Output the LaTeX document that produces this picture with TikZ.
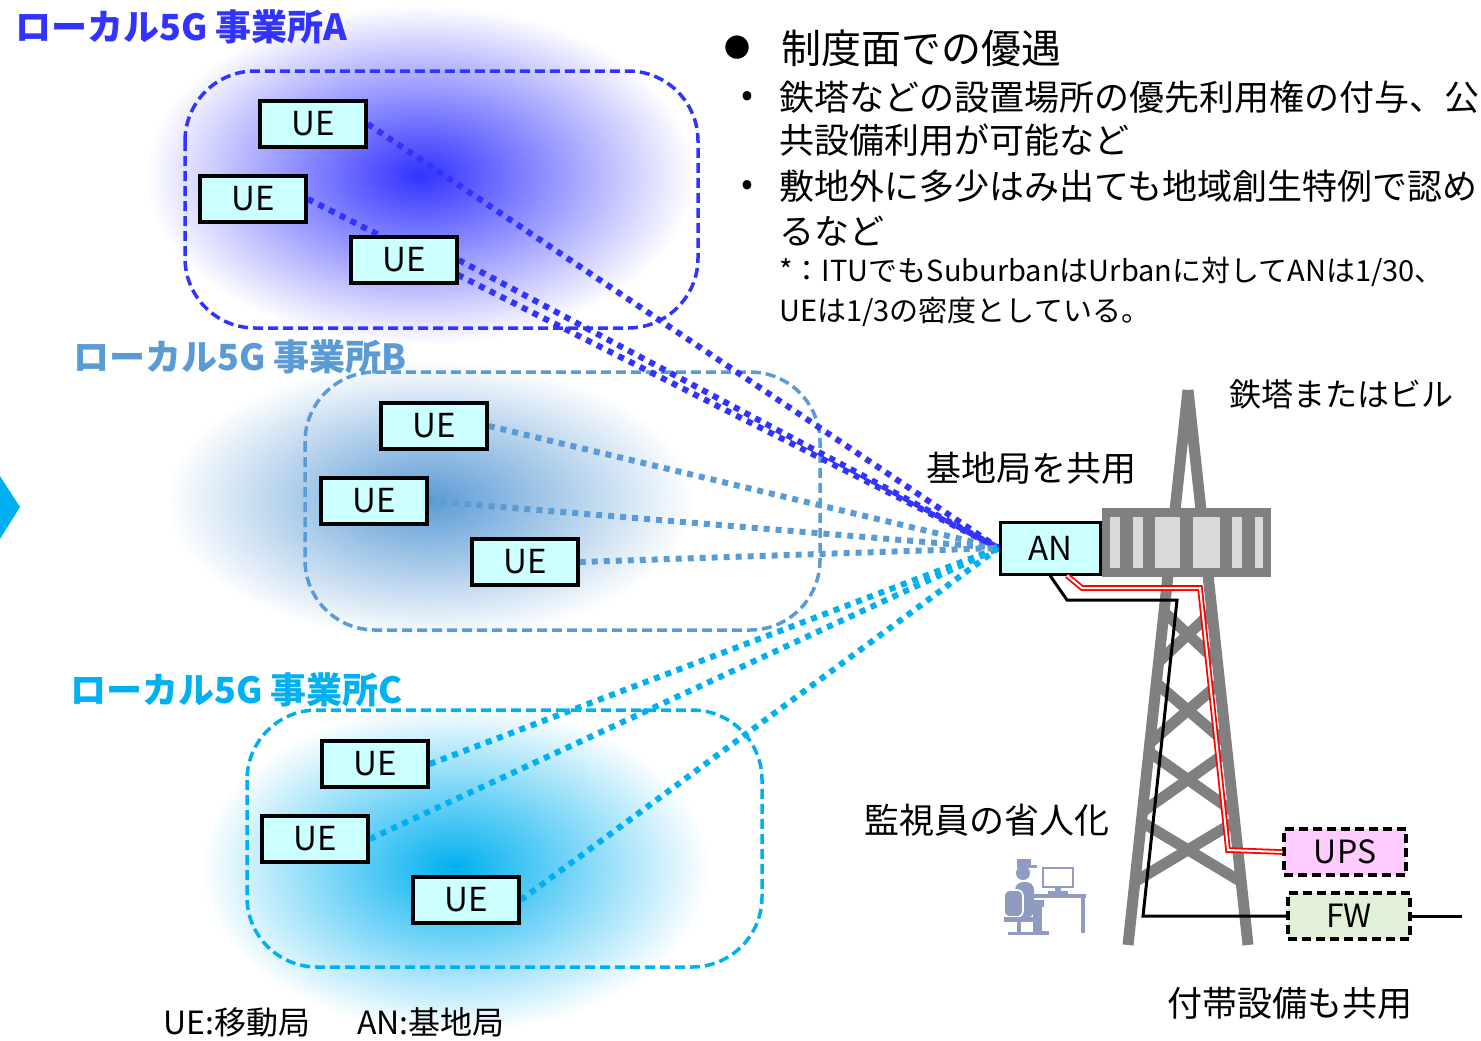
\documentclass[tikz,border=0pt]{standalone}
\usepackage{fontspec}
\setmainfont{Noto Sans CJK JP}
\usetikzlibrary{backgrounds,calc}

% colours
\definecolor{siteA}{RGB}{51,51,255}
\definecolor{siteB}{RGB}{91,155,213}
\definecolor{siteC}{RGB}{0,176,240}
\definecolor{uecyan}{RGB}{204,255,255}
\definecolor{towergray}{RGB}{128,128,128}
\definecolor{slotgray}{RGB}{217,217,217}
\definecolor{upspink}{RGB}{255,204,255}
\definecolor{fwgreen}{RGB}{226,240,217}
\definecolor{staffblue}{RGB}{143,155,192}

\tikzset{
  term/.style={draw=black, line width=1.75pt, fill=uecyan, minimum width=53pt,
    minimum height=23pt, inner sep=0pt, font=\fontsize{16.5}{16.5}\selectfont},
  facility/.style={draw=black, line width=1.6pt, dash pattern=on 4.5pt off 2.5pt,
    minimum width=61pt, minimum height=23pt, inner sep=0pt,
    font=\fontsize{16}{16}\selectfont},
  site/.style={line width=1.75pt, dash pattern=on 5pt off 2.5pt, rounded corners=35pt},
  radio/.style={line width=3pt, dash pattern=on 3pt off 3pt},
  sitelabel/.style={anchor=west, inner sep=0pt, font=\bfseries\fontsize{18}{18}\selectfont},
  caption/.style={inner sep=0pt, font=\fontsize{17.5}{17.5}\selectfont},
  brace/.style={towergray, line width=5.5pt},
}

\begin{document}
\begin{tikzpicture}[x=0.5pt, y=-0.5pt]
\useasboundingbox (0,0) rectangle (1481,1040);

% terminals, site A
\node[term] (ue_a1) at (313,124) {UE};
\node[term] (ue_a2) at (253,199) {UE};
\node[term] (ue_a3) at (404,260) {UE};
% terminals, site B
\node[term] (ue_b1) at (434,426) {UE};
\node[term] (ue_b2) at (374,501) {UE};
\node[term] (ue_b3) at (525,562) {UE};
% terminals, site C
\node[term] (ue_c1) at (375,764) {UE};
\node[term] (ue_c2) at (315,839) {UE};
\node[term] (ue_c3) at (466,900) {UE};
% shared base station
\node[term, line width=1.5pt, minimum width=50pt, minimum height=26pt] (an_box) at (1050,548) {AN};
% facilities at the foot of the tower
\node[facility, fill=upspink] (ups) at (1345,852) {UPS};
\node[facility, fill=fwgreen] (fw) at (1349,916) {FW};
\coordinate (fw_out) at (1462,916);

% site labels
\node[sitelabel, siteA] (lbl_a) at (15,27) {ローカル5G 事業所A};
\node[sitelabel, siteB] (lbl_b) at (73,357) {ローカル5G 事業所B};
\node[sitelabel, siteC] (lbl_c) at (70,690) {ローカル5G 事業所C};

% bullet text
\node[inner sep=0pt, font=\fontsize{13}{13}\selectfont] (dot_main) at (737,48) {●};
\node[caption, anchor=west, font=\fontsize{20}{20}\selectfont] (head) at (781,48) {制度面での優遇};
\node[caption] (dot_1) at (747,99) {•};
\node[caption, anchor=west] (item_1a) at (779,97) {鉄塔などの設置場所の優先利用権の付与、公};
\node[caption, anchor=west] (item_1b) at (779,140) {共設備利用が可能など};
\node[caption] (dot_2) at (747,188) {•};
\node[caption, anchor=west] (item_2a) at (779,186) {敷地外に多少はみ出ても地域創生特例で認め};
\node[caption, anchor=west] (item_2b) at (779,231) {るなど};
\node[caption, anchor=west, font=\fontsize{14.5}{14.5}\selectfont] (fn_1) at (779,272) {*：ITUでもSuburbanはUrbanに対してANは1/30、};
\node[caption, anchor=west, font=\fontsize{14.5}{14.5}\selectfont] (fn_2) at (779,312) {UEは1/3の密度としている。};

% other captions
\node[caption, font=\fontsize{16}{16}\selectfont] (cap_tower) at (1341,394) {鉄塔またはビル};
\node[caption] (cap_share) at (1031,468) {基地局を共用};
\node[caption] (cap_staff) at (987,820) {監視員の省人化};
\node[caption] (cap_equip) at (1290,1003) {付帯設備も共用};
\node[caption, anchor=west, font=\fontsize{16}{16}\selectfont] (legend_ue) at (163,1022) {UE:移動局};
\node[caption, anchor=west, font=\fontsize{16}{16}\selectfont] (legend_an) at (357,1022) {AN:基地局};

\begin{scope}[on background layer]
  % coverage blobs
  \shade[inner color=siteA, outer color=white] (420,175) ellipse [x radius=275, y radius=170];
  \shade[inner color=siteB, outer color=white] (430,500) ellipse [x radius=265, y radius=140];
  \shade[inner color=siteC, outer color=white] (455,868) ellipse [x radius=255, y radius=165];
  % site areas
  \draw[site, siteA] (185,71) rectangle (698,328);
  \draw[site, siteB] (305,372) rectangle (820,630);
  \draw[site, siteC] (247,710) rectangle (762,967);
  % radio links
  \foreach \u in {1,2,3} {
    \draw[radio, siteA] (ue_a\u.east) -- (an_box.west);
    \draw[radio, siteB] (ue_b\u.east) -- (an_box.west);
    \draw[radio, siteC] (ue_c\u.east) -- (an_box.west);
  }
  % tower
  \coordinate (mast_top) at (1188,390);
  \coordinate (leg_l) at (1128,945);
  \coordinate (leg_r) at (1248,945);
  \draw[brace] (mast_top) -- (leg_l);
  \draw[brace] (mast_top) -- (leg_r);
  \foreach \a/\b in {0.40/0.49, 0.528/0.636, 0.652/0.760, 0.778/0.886} {
    \draw[brace] ($(mast_top)!\a!(leg_l)$) -- ($(mast_top)!\b!(leg_r)$);
    \draw[brace] ($(mast_top)!\a!(leg_r)$) -- ($(mast_top)!\b!(leg_l)$);
  }
  % antenna panel
  \fill[towergray] (1102,508) rectangle (1271,577);
  \foreach \l/\r in {1110/1120, 1133/1143, 1155/1180, 1193/1220, 1232/1242, 1255/1263}
    \fill[slotgray] (\l,517) rectangle (\r,568);
\end{scope}

% cables
\draw[black, line width=1.5pt] (an_box.south) -- (1067,600) -- (1177,600) -- (1143,916) -- (fw.west);
\draw[black, line width=1.5pt] (fw.east) -- (fw_out);
\draw[red, double=white, line width=0.9pt, double distance=1pt]
  ($(an_box.south)+(17,0)$) -- (1082,588) -- (1200,588) -- (1228,850) -- (ups.west);

% monitoring staff
\fill[staffblue] (1023,873) circle (7);
\fill[staffblue] (1017,859) rectangle (1031,867);
\fill[staffblue] (1017,865) rectangle (1037,868);
\fill[staffblue, rounded corners=4] (1015,882) rectangle (1034,918);
\fill[staffblue] (1030,900) rectangle (1044,907);
\fill[staffblue] (1033,905) rectangle (1042,933);
\fill[staffblue] (1033,931) rectangle (1049,935);
\draw[staffblue, line width=1.3pt] (1043,868) rectangle (1073,887);
\fill[staffblue] (1055,887) rectangle (1061,892);
\fill[staffblue] (1048,891) rectangle (1068,894);
\fill[staffblue] (1033,894) rectangle (1086,898);
\fill[staffblue] (1081,898) rectangle (1085,933);
\fill[staffblue, draw=white, line width=0.8pt, rounded corners=3] (1004,890) rectangle (1023,917);
\fill[staffblue] (1004,917) rectangle (1035,922);
\fill[staffblue] (1017,922) rectangle (1021,932);
\fill[staffblue] (1008,932) rectangle (1034,935);

% chevron at the left edge
\fill[siteC] (0,476) -- (20,507) -- (0,539) -- cycle;
\end{tikzpicture}
\end{document}
